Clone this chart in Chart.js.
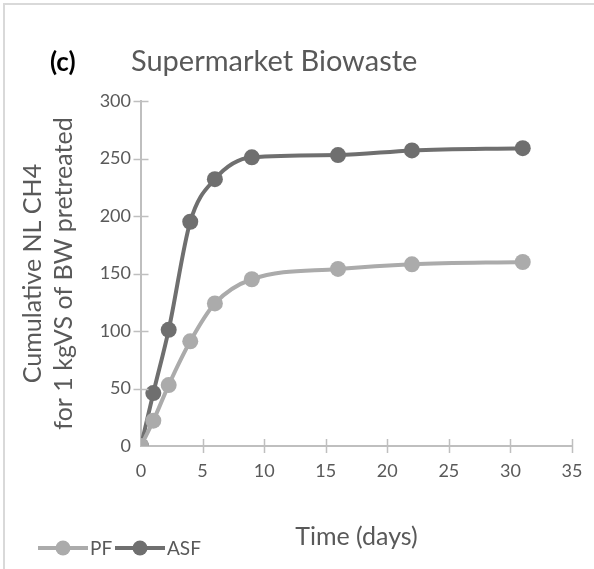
<!DOCTYPE html>
<html>
<head>
<meta charset="utf-8">
<script src="https://cdn.jsdelivr.net/npm/chart.js@4.4.1/dist/chart.umd.min.js"></script>
<style>
  html, body { margin: 0; padding: 0; background: #fff; }
  #wrap { width: 594px; height: 569px; position: relative; }
</style>
</head>
<body>
<div id="wrap"><canvas id="chart"></canvas></div>
<script>
// ========================================
// data
// ========================================
const days = [0, 1, 2.25, 4, 6, 9, 16, 22, 31];
const pfValues = [0, 22, 53, 91, 124, 145, 154, 158, 160];
const asfValues = [0, 46, 101, 195, 232, 251, 253, 257, 259];
const xTicks = [0, 5, 10, 15, 20, 25, 30, 35];
const yTicks = [0, 50, 100, 150, 200, 250, 300];

const colors = {
  pf: '#ababab',
  asf: '#6f6f6f',
  text: '#595959',
  axis: '#bfbfbf',
  frame: '#d9d9d9'
};
const FONT = "Lato, 'Open Sans', sans-serif";

const toPoints = (xs, ys) => xs.map((x, i) => ({ x, y: ys[i] }));

// frame, headings, cross tick marks and legend
const decorPlugin = {
  id: 'decor',
  beforeDraw(chart) {
    const ctx = chart.ctx;
    ctx.save();
    ctx.strokeStyle = colors.frame;
    ctx.lineWidth = 2;
    ctx.strokeRect(4, 4, 700, 700);
    ctx.restore();
  },
  afterDatasetsDraw(chart) {
    const ctx = chart.ctx;
    const { x, y } = chart.scales;
    ctx.save();

    // cross tick marks
    ctx.strokeStyle = colors.axis;
    ctx.lineWidth = 1.5;
    ctx.beginPath();
    xTicks.slice(1).forEach(v => {
      const px = Math.round(x.getPixelForValue(v)) + 0.5;
      ctx.moveTo(px, y.bottom - 7);
      ctx.lineTo(px, y.bottom + 7);
    });
    yTicks.slice(1).forEach(v => {
      const py = Math.round(y.getPixelForValue(v)) + 0.5;
      ctx.moveTo(x.left - 7.5, py);
      ctx.lineTo(x.left + 7.5, py);
    });
    ctx.stroke();

    // headings
    ctx.textBaseline = 'alphabetic';
    ctx.textAlign = 'left';
    ctx.fillStyle = '#000';
    ctx.font = 'bold 26px ' + FONT;
    ctx.fillText('(c)', 50, 71);
    ctx.fillStyle = colors.text;
    ctx.font = '29px ' + FONT;
    ctx.fillText('Supermarket Biowaste', 131, 71);

    // legend
    const items = [
      { ds: chart.data.datasets[0], x0: 38 },
      { ds: chart.data.datasets[1], x0: 115 }
    ];
    const ly = 548;
    ctx.font = '19px ' + FONT;
    ctx.textBaseline = 'middle';
    items.forEach(it => {
      ctx.strokeStyle = it.ds.borderColor;
      ctx.lineWidth = 4;
      ctx.beginPath();
      ctx.moveTo(it.x0, ly);
      ctx.lineTo(it.x0 + 50, ly);
      ctx.stroke();
      ctx.fillStyle = it.ds.borderColor;
      ctx.beginPath();
      ctx.arc(it.x0 + 25, ly, 7.5, 0, Math.PI * 2);
      ctx.fill();
      ctx.fillStyle = colors.text;
      ctx.fillText(it.ds.label, it.x0 + 52, ly + 1);
    });
    ctx.restore();
  }
};

function makeDataset(label, values, color) {
  return {
    label,
    data: toPoints(days, values),
    borderColor: color,
    backgroundColor: color,
    borderWidth: 4,
    pointRadius: 8,
    pointHoverRadius: 8,
    pointBorderWidth: 0,
    cubicInterpolationMode: 'monotone'
  };
}

new Chart(document.getElementById('chart'), {
  type: 'line',
  data: {
    datasets: [
      makeDataset('PF', pfValues, colors.pf),
      makeDataset('ASF', asfValues, colors.asf)
    ]
  },
  options: {
    responsive: true,
    maintainAspectRatio: false,
    animation: false,
    layout: { padding: { top: 101, right: 22, bottom: 0, left: 0 } },
    plugins: {
      legend: { display: false },
      tooltip: { enabled: false }
    },
    scales: {
      x: {
        type: 'linear',
        min: 0,
        max: 35,
        afterFit: s => {
          s.height = 123;
          s.paddingLeft = 0;
          s.paddingRight = 0;
        },
        afterBuildTicks: s => { s.ticks = xTicks.map(v => ({ value: v })); },
        grid: { drawOnChartArea: false, drawTicks: false },
        border: { color: colors.axis, width: 2 },
        ticks: { color: colors.text, font: { family: FONT, size: 18 }, padding: 14 },
        title: {
          display: true,
          text: 'Time (days)',
          color: colors.text,
          font: { family: FONT, size: 25, lineHeight: 1.2 },
          padding: { top: 0, bottom: 17 }
        }
      },
      y: {
        min: 0,
        max: 300,
        afterFit: s => { s.width = 141; },
        afterBuildTicks: s => { s.ticks = yTicks.map(v => ({ value: v })); },
        grid: { drawOnChartArea: false, drawTicks: false },
        border: { color: colors.axis, width: 2 },
        ticks: { color: colors.text, font: { family: FONT, size: 18 }, padding: 10 },
        title: {
          display: true,
          text: ['Cumulative NL CH4', 'for 1 kgVS of BW pretreated'],
          color: colors.text,
          font: { family: FONT, size: 25, lineHeight: 1.25 },
          padding: { top: 17, bottom: 0 }
        }
      }
    }
  },
  plugins: [decorPlugin]
});
</script>
</body>
</html>
